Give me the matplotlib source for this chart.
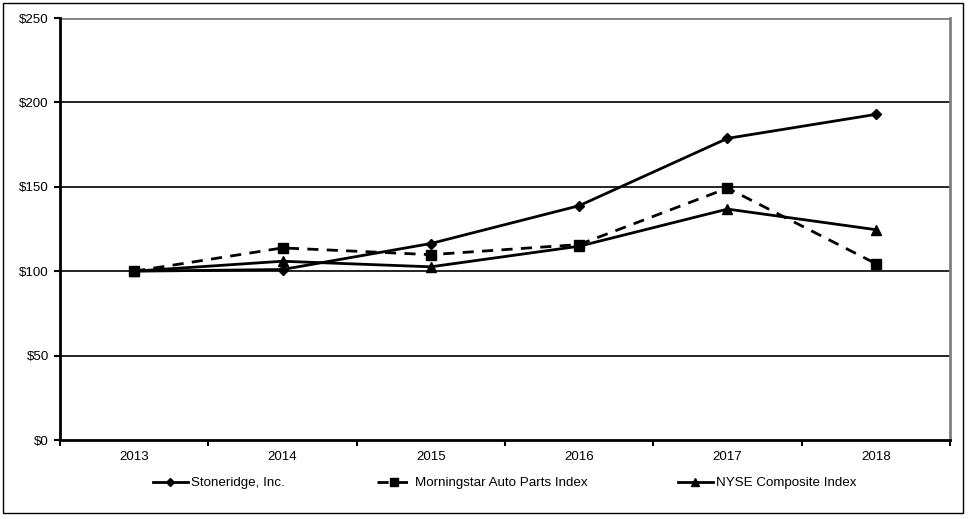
import matplotlib
matplotlib.use('Agg')
from matplotlib import pyplot as plt
from matplotlib.patches import Rectangle

plt.rcParams['font.family'] = ['Liberation Sans', 'DejaVu Sans']

years = ['2013', '2014', '2015', '2016', '2017', '2018']
stoneridge = [100, 101.0, 116.4, 138.8, 178.7, 192.9]
morningstar = [100, 113.8, 109.8, 115.8, 149.2, 104.5]
nyse = [100, 105.9, 102.6, 114.8, 136.8, 124.6]
y_ticks = [0, 50, 100, 150, 200, 250]

fs = 9.6

fig = plt.figure(figsize=(9.68, 5.19), dpi=100)
ax = fig.add_axes([60 / 968, 79 / 519, 890 / 968, 422 / 519])

# frame around the whole chart
fig.patches.append(Rectangle((3 / 968, 6 / 519), 960 / 968, 510 / 519, transform=fig.transFigure,
                             fill=False, edgecolor='black', linewidth=1))

x = list(range(len(years)))
l1, = ax.plot(x, stoneridge, color='black', lw=2, marker='D', markersize=5.5, label='Stoneridge, Inc.', zorder=4)
l2, = ax.plot(x, morningstar, color='black', lw=2, ls=(0, (4, 3)), marker='s', markersize=7.5,
              label='Morningstar Auto Parts Index', zorder=4)
l3, = ax.plot(x, nyse, color='black', lw=2, marker='^', markersize=7.5, label='NYSE Composite Index', zorder=4)

ax.set_xlim(-0.5, len(years) - 0.5)
ax.set_ylim(0, 250)
ax.set_yticks(y_ticks)
ax.set_yticklabels(['$' + str(v) for v in y_ticks], fontsize=fs)
for v in y_ticks[1:-1]:
    ax.axhline(v, color='black', lw=1.2, zorder=1)
ax.axhline(250, color='#808080', lw=2, zorder=1)

ax.set_xticks(x)
ax.set_xticklabels(years, fontsize=fs)
ax.set_xticks([i - 0.5 for i in range(len(years) + 1)], minor=True)
ax.tick_params(axis='x', which='major', length=0, pad=8)
ax.tick_params(axis='x', which='minor', length=4, width=1.5, direction='out')
ax.tick_params(axis='y', length=4, width=1.5, direction='out', pad=4)

for s in ['left', 'bottom']:
    ax.spines[s].set_linewidth(2)
    ax.spines[s].set_color('black')
ax.spines['top'].set_visible(False)
ax.spines['right'].set_color('#808080')
ax.spines['right'].set_linewidth(2)

# one legend per entry, placed like the original
for line, xpos in [(l1, 153), (l2, 377), (l3, 678)]:
    leg = fig.legend(handles=[line], loc='center left', bbox_to_anchor=(xpos / 968, 36 / 519),
                     frameon=False, fontsize=fs, handlelength=2.6, handletextpad=0.25,
                     borderpad=0, borderaxespad=0, markerscale=0.8)

plt.savefig('out.png')
